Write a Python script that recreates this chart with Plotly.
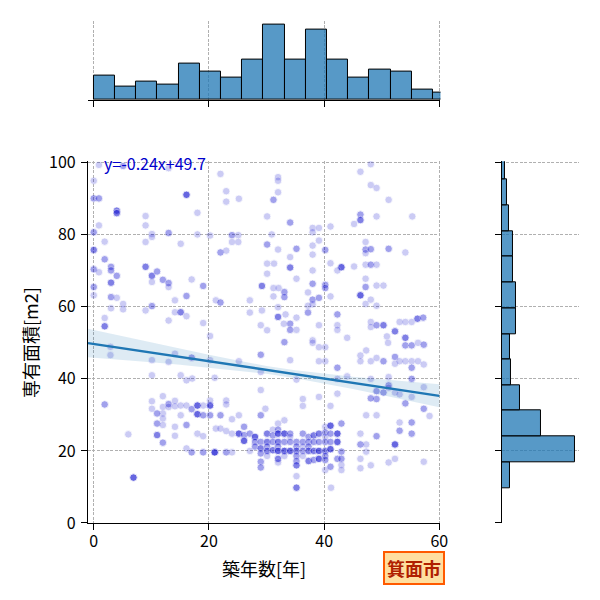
import numpy as np
import plotly.graph_objects as go

# scatter points: (years, area m2, how many overlap)
pts_upper_left = [
    (0.9, 99.4, 1), (5.1, 99.1, 2), (13.0, 98.5, 1), (0.0, 95.0, 1), (0.0, 90.1, 2), (0.9, 90.1, 2),
    (16.1, 91.1, 4), (4.0, 86.7, 3), (4.0, 86.0, 3), (9.0, 85.2, 1), (9.0, 82.6, 1), (0.9, 82.6, 1),
    (18.0, 86.1, 1), (22.0, 96.9, 1), (23.0, 92.1, 1), (23.0, 89.2, 1), (25.2, 90.0, 1), (0.0, 80.7, 2),
    (10.1, 80.2, 1), (10.1, 79.4, 1), (13.0, 80.5, 2), (1.9, 78.1, 1), (9.0, 78.0, 1), (15.1, 77.5, 1),
    (18.0, 80.1, 1), (20.2, 79.8, 1), (24.0, 79.9, 2), (25.1, 79.9, 1), (24.0, 78.0, 1), (25.1, 78.0, 1),
    (22.0, 75.1, 2), (23.0, 75.6, 1), (0.0, 75.8, 3), (1.9, 73.2, 2), (0.0, 70.4, 2), (0.9, 69.6, 1),
    (3.0, 71.1, 2), (3.0, 70.1, 2), (4.0, 68.6, 2), (3.0, 66.7, 3), (9.0, 71.1, 3), (10.1, 68.6, 3),
    (11.0, 69.8, 2), (10.1, 66.9, 1), (12.0, 67.5, 2), (13.0, 66.6, 2), (13.0, 65.5, 1), (17.0, 67.6, 1),
    (19.0, 65.8, 2), (0.0, 65.5, 2), (0.0, 63.2, 1), (3.0, 62.7, 2), (4.0, 62.5, 1), (5.1, 60.8, 1),
    (5.1, 59.3, 1), (3.0, 59.6, 1), (10.1, 60.2, 2), (9.0, 59.0, 1), (14.1, 61.8, 1), (16.1, 63.0, 2),
    (15.1, 58.5, 3), (14.1, 58.5, 1), (16.1, 57.4, 1), (13.0, 56.2, 1), (19.0, 55.5, 1), (21.2, 61.8, 1),
    (22.0, 61.2, 2), (27.1, 61.8, 1), (27.1, 58.4, 1), (1.9, 56.9, 1), (1.9, 54.6, 3), (20.2, 51.9, 1),
    (29.0, 54.9, 1),
]

pts_upper_right = [
    (48.1, 99.6, 1), (46.3, 97.5, 1), (32.0, 96.0, 1), (32.0, 95.0, 1), (32.0, 91.8, 1), (31.2, 89.7, 2),
    (48.1, 93.8, 1), (49.1, 93.0, 1), (51.2, 89.7, 1), (30.1, 85.1, 1), (34.1, 83.4, 2), (46.3, 85.6, 2),
    (46.3, 84.1, 3), (45.2, 83.0, 1), (49.1, 85.1, 1), (55.3, 85.1, 1), (38.0, 81.9, 1), (38.0, 80.7, 1),
    (39.1, 81.9, 1), (41.1, 82.3, 1), (30.9, 80.1, 1), (39.1, 78.4, 1), (30.1, 77.3, 2), (32.0, 75.9, 1),
    (35.2, 76.1, 2), (38.0, 77.0, 1), (38.0, 74.5, 1), (40.2, 75.8, 2), (47.2, 78.0, 1), (47.2, 75.9, 2),
    (47.2, 74.9, 1), (48.1, 76.0, 2), (51.2, 76.1, 2), (54.1, 75.1, 1), (34.1, 73.8, 1), (30.1, 72.0, 1),
    (31.3, 72.0, 1), (34.1, 70.9, 3), (30.1, 69.2, 1), (35.2, 67.8, 1), (38.0, 70.1, 1), (41.1, 72.1, 1),
    (43.0, 71.0, 4), (42.3, 70.1, 1), (45.2, 71.2, 1), (47.2, 71.7, 1), (48.1, 71.7, 2), (49.1, 71.7, 1),
    (47.2, 67.8, 1), (47.2, 65.5, 2), (49.1, 65.9, 1), (50.3, 65.9, 1), (29.2, 65.8, 3), (31.2, 65.2, 1),
    (32.1, 65.2, 1), (33.1, 64.1, 2), (33.1, 62.7, 2), (31.2, 62.9, 1), (38.0, 66.4, 2), (40.2, 66.1, 2),
    (40.2, 65.2, 2), (37.2, 64.0, 1), (38.0, 62.0, 2), (39.1, 62.5, 2), (41.1, 62.9, 1), (46.3, 63.2, 4),
    (47.2, 60.8, 1), (48.1, 62.0, 1), (49.1, 60.3, 1), (37.2, 60.3, 1), (38.0, 60.7, 1), (32.0, 59.9, 1),
    (32.0, 57.2, 3), (33.3, 57.9, 1), (35.2, 57.0, 1), (37.2, 58.4, 2), (42.3, 57.9, 2), (29.2, 59.0, 1),
    (30.1, 53.5, 1), (34.1, 55.3, 2), (34.1, 53.6, 2), (33.0, 55.3, 1), (35.2, 53.6, 1), (39.1, 54.9, 1),
    (42.3, 54.9, 1), (42.3, 53.6, 1), (48.1, 55.8, 1), (48.1, 54.4, 1), (49.1, 54.9, 2), (50.3, 54.9, 3),
    (53.1, 55.8, 1), (54.1, 55.8, 1), (55.2, 55.8, 1), (56.2, 56.7, 3), (57.2, 57.0, 2), (52.3, 53.2, 3),
    (54.1, 51.4, 3), (50.9, 51.8, 1), (44.0, 51.4, 1), (38.0, 50.7, 1),
]

pts_lower_left = [
    (2.9, 48.9, 1), (2.9, 46.6, 1), (10.1, 45.2, 1), (13.0, 44.7, 1), (14.1, 47.0, 1), (17.0, 45.9, 2),
    (20.2, 45.2, 1), (25.2, 44.9, 1), (29.0, 46.7, 2), (29.0, 41.9, 1), (10.1, 41.0, 1), (15.1, 41.0, 1),
    (16.1, 39.6, 1), (17.1, 40.1, 1), (21.0, 40.3, 1), (29.0, 36.9, 1), (1.9, 32.9, 2), (10.1, 33.8, 1),
    (10.1, 31.7, 1), (12.0, 35.2, 1), (12.0, 32.2, 1), (12.0, 30.4, 1), (11.0, 30.4, 2), (11.0, 27.6, 2),
    (12.0, 29.0, 1), (12.0, 27.2, 1), (13.0, 33.0, 2), (13.0, 32.2, 1), (14.1, 33.9, 1), (14.1, 32.4, 1),
    (15.1, 32.6, 1), (15.1, 29.9, 1), (16.1, 32.6, 1), (17.0, 31.6, 2), (18.0, 32.6, 4), (18.0, 30.2, 4),
    (19.0, 32.6, 1), (19.0, 29.9, 2), (20.2, 32.6, 4), (20.2, 29.9, 2), (20.2, 34.0, 1), (22.0, 29.9, 2),
    (23.0, 34.0, 1), (23.0, 32.9, 1), (24.0, 28.8, 1), (25.2, 29.9, 1), (29.0, 29.9, 2), (29.8, 31.7, 1),
    (6.0, 24.6, 1), (11.0, 24.4, 3), (12.0, 22.3, 2), (14.1, 26.7, 1), (14.1, 24.2, 1), (16.1, 27.2, 2),
    (18.0, 24.8, 1), (19.0, 24.1, 1), (21.2, 26.2, 1), (22.0, 26.2, 1), (23.0, 25.5, 1), (24.0, 24.8, 1),
    (25.2, 24.8, 4), (26.1, 26.7, 2), (26.1, 24.4, 2), (26.1, 22.8, 4), (27.1, 24.8, 2), (28.0, 23.9, 4),
    (28.0, 22.5, 2), (28.0, 21.2, 2), (29.0, 22.5, 2), (29.0, 20.7, 3), (29.0, 19.3, 2), (16.1, 20.7, 1),
    (17.0, 19.6, 2), (19.0, 19.6, 2), (21.0, 19.6, 5), (23.0, 19.6, 2), (24.0, 19.6, 1), (27.1, 20.0, 1),
    (29.0, 17.0, 2), (29.0, 15.4, 2), (6.9, 12.6, 4),
]

pts_lower_right = [
    (33.1, 50.2, 2), (38.0, 50.0, 1), (39.1, 48.8, 1), (40.2, 48.8, 1), (51.1, 50.0, 1), (54.1, 49.3, 2),
    (55.2, 49.3, 2), (56.3, 50.0, 1), (57.3, 49.5, 2), (34.1, 45.2, 1), (39.1, 44.9, 1), (40.2, 44.9, 1),
    (42.3, 43.1, 2), (46.3, 46.5, 1), (46.3, 44.9, 1), (47.3, 47.9, 1), (48.1, 44.9, 1), (49.1, 45.8, 1),
    (50.3, 44.9, 2), (52.3, 46.1, 2), (52.3, 44.2, 1), (53.1, 44.9, 1), (54.1, 44.9, 1), (55.2, 44.9, 1),
    (55.2, 43.1, 2), (56.3, 44.9, 1), (57.3, 44.0, 1), (42.3, 40.0, 1), (44.0, 40.7, 1), (48.1, 40.0, 1),
    (49.1, 36.6, 2), (49.1, 34.4, 2), (48.1, 34.6, 2), (50.3, 36.2, 2), (51.2, 40.5, 1), (51.2, 38.2, 2),
    (51.2, 37.5, 1), (52.3, 36.2, 1), (53.1, 35.7, 1), (54.1, 33.2, 2), (55.2, 40.0, 2), (55.2, 35.0, 1),
    (57.3, 37.7, 1), (57.3, 31.7, 2), (58.3, 29.7, 1), (35.2, 39.8, 1), (36.3, 34.4, 1), (36.3, 32.5, 1),
    (39.1, 35.0, 1), (41.1, 32.5, 1), (42.3, 35.9, 1), (33.1, 28.5, 1), (47.3, 29.9, 1), (49.1, 29.9, 1),
    (53.1, 27.9, 1), (55.2, 27.9, 2), (53.1, 25.6, 2), (55.2, 24.8, 2), (49.1, 24.1, 2), (52.3, 21.8, 4),
    (46.3, 21.8, 2), (47.3, 21.8, 1), (46.3, 24.8, 1), (47.3, 19.8, 1), (46.3, 17.8, 1), (46.3, 15.2, 1),
    (48.1, 16.0, 1), (51.2, 16.8, 1), (52.3, 17.8, 1), (57.3, 17.0, 1), (41.2, 9.8, 1),
]

pts_cluster = [
    (30.1, 24.8, 3), (30.1, 22.5, 3), (30.1, 21.2, 2), (30.1, 20.0, 3), (30.1, 18.6, 1),
    (31.1, 25.9, 1), (31.1, 24.3, 2), (31.1, 22.5, 2), (31.1, 20.2, 3),
    (32.0, 27.6, 1), (32.0, 25.9, 2), (32.0, 24.8, 4), (32.0, 22.5, 3), (32.0, 21.2, 2), (32.0, 20.0, 4),
    (32.0, 17.8, 3), (32.0, 16.8, 1),
    (33.1, 24.8, 4), (33.1, 22.5, 2), (33.1, 20.0, 4), (33.1, 18.6, 1),
    (34.1, 24.8, 2), (34.1, 23.9, 1), (34.1, 22.5, 2), (34.1, 20.0, 4),
    (35.2, 22.5, 2), (35.2, 21.2, 2), (35.2, 20.0, 3), (35.2, 18.6, 2), (35.2, 17.2, 2), (35.2, 16.0, 3),
    (35.2, 13.0, 1), (35.2, 9.8, 3),
    (36.3, 24.8, 2), (36.3, 22.5, 2), (36.3, 21.2, 1), (36.3, 20.0, 2), (36.3, 18.6, 1),
    (37.3, 23.9, 2), (37.3, 22.5, 2), (37.3, 21.2, 2), (37.3, 20.0, 3), (37.3, 17.2, 3),
    (38.2, 24.3, 3), (38.2, 22.5, 2), (38.2, 20.0, 3), (38.2, 17.5, 2),
    (39.1, 24.8, 3), (39.1, 22.5, 2), (39.1, 20.0, 4), (39.1, 17.8, 4),
    (40.2, 26.7, 1), (40.2, 25.1, 2), (40.2, 23.9, 1), (40.2, 22.5, 2), (40.2, 20.0, 3), (40.2, 18.6, 2),
    (40.2, 17.5, 2), (40.2, 14.7, 1),
    (41.1, 27.0, 4), (41.1, 24.8, 2), (41.1, 22.5, 2), (41.1, 20.5, 4), (41.1, 15.6, 2),
    (42.3, 24.8, 4), (42.3, 22.5, 4), (42.3, 17.8, 2),
    (43.0, 27.6, 2), (43.0, 19.8, 2), (43.0, 17.8, 2), (43.0, 16.1, 1), (43.0, 14.7, 1),
]

# marginal histograms
top_edges = [0, 3.68, 7.36, 11.04, 14.72, 18.4, 22.08, 25.76, 29.44, 33.12, 36.8, 40.48,
             44.16, 47.84, 51.52, 55.2, 58.88, 62.56]
top_counts = [24, 13, 18, 15, 36, 28, 22, 40, 75, 40, 70, 40, 22, 30, 28, 10, 7]
right_edges = [9.6, 16.8, 24.0, 31.2, 38.2, 45.3, 52.5, 59.6, 66.8, 73.9, 81.1, 88.3, 95.5, 102.7]
right_counts = [19, 171, 91, 42, 21, 18, 33, 33, 26, 26, 16, 12, 6]

# regression fit and its confidence band
slope = -0.24
intercept = 49.7
fit_x = [-1, 60]
ci_x = [-1, 5, 10, 15, 20, 25, 30, 35, 40, 45, 50, 55, 60]
ci_lower = [46.0, 45.2, 44.6, 43.9, 43.1, 42.3, 41.4, 40.2, 38.8, 37.2, 35.5, 33.9, 32.1]
ci_upper = [53.9, 51.8, 50.1, 48.4, 46.7, 45.1, 43.6, 42.4, 41.4, 40.6, 39.9, 39.2, 38.5]

city = "箕面市"

all_pts = pts_upper_left + pts_upper_right + pts_lower_left + pts_lower_right + pts_cluster
px_ = np.repeat([p[0] for p in all_pts], [p[2] for p in all_pts])
py_ = np.repeat([p[1] for p in all_pts], [p[2] for p in all_pts])

FONT = "Noto Sans CJK JP"
C0 = "#1f77b4"
GRID = dict(showgrid=True, gridcolor="#b0b0b0", griddash="3px,1.5px", gridwidth=0.8)
SPINE = dict(showline=True, linecolor="black", linewidth=1.2, ticks="outside",
             ticklen=6, tickwidth=1.2, tickcolor="black", zeroline=False, automargin=False)

# the page adds an 8px body margin, so domains are shifted to compensate
MAIN_X = [0.1333, 0.7208]
MAIN_Y = [0.1417, 0.7445]
X_RANGE = [-1, 60.2]
Y_RANGE = [0, 100.4]

fig = go.Figure()

fig.add_trace(go.Scatter(
    x=px_, y=py_, mode="markers",
    marker=dict(size=7.5, color="mediumblue", opacity=0.2, line=dict(color="white", width=0.8)),
    xaxis="x", yaxis="y"))

fig.add_trace(go.Scatter(
    x=ci_x + ci_x[::-1], y=ci_upper + ci_lower[::-1], fill="toself",
    fillcolor="rgba(31,119,180,0.15)", line=dict(width=0), mode="lines",
    xaxis="x", yaxis="y"))
fig.add_trace(go.Scatter(
    x=fit_x, y=[slope * v + intercept for v in fit_x], mode="lines",
    line=dict(color=C0, width=2.4), xaxis="x", yaxis="y"))

top_mid = [(a + b) / 2 for a, b in zip(top_edges[:-1], top_edges[1:])]
top_w = [b - a for a, b in zip(top_edges[:-1], top_edges[1:])]
fig.add_trace(go.Bar(
    x=top_mid, y=top_counts, width=top_w,
    marker=dict(color="rgba(31,119,180,0.75)", line=dict(color="black", width=1)),
    xaxis="x2", yaxis="y2"))

right_mid = [(a + b) / 2 for a, b in zip(right_edges[:-1], right_edges[1:])]
right_w = [b - a for a, b in zip(right_edges[:-1], right_edges[1:])]
fig.add_trace(go.Bar(
    y=right_mid, x=right_counts, width=right_w, orientation="h",
    marker=dict(color="rgba(31,119,180,0.75)", line=dict(color="black", width=1)),
    xaxis="x3", yaxis="y3"))

fig.update_layout(
    width=600, height=600, margin=dict(l=0, r=0, t=0, b=0),
    paper_bgcolor="white", plot_bgcolor="white", showlegend=False,
    font=dict(family=FONT, size=16, color="black"),
    bargap=0,
    xaxis=dict(domain=MAIN_X, range=X_RANGE, tickvals=[0, 20, 40, 60],
               anchor="y", ticklabelstandoff=-2, **GRID, **SPINE),
    yaxis=dict(domain=MAIN_Y, range=Y_RANGE, tickvals=[0, 20, 40, 60, 80, 100],
               anchor="x", ticklabelstandoff=2, **GRID, **SPINE),
    xaxis2=dict(domain=MAIN_X, range=X_RANGE, tickvals=[0, 20, 40, 60],
                showticklabels=False, anchor="y2", **GRID, **SPINE),
    yaxis2=dict(domain=[0.8467, 0.979], range=[0, max(top_counts) * 1.05], visible=False,
                anchor="x2"),
    xaxis3=dict(domain=[0.8233, 0.9512], range=[0, max(right_counts) * 1.05], visible=False,
                anchor="y3"),
    yaxis3=dict(domain=MAIN_Y, range=Y_RANGE, tickvals=[0, 20, 40, 60, 80, 100],
                showticklabels=False, anchor="x3", **GRID, **SPINE),
)

fig.add_annotation(x=1.5, y=100, xref="x", yref="y", xanchor="left", yanchor="middle",
                   text=f"y={slope}x+{intercept}", showarrow=False,
                   font=dict(size=16, color="mediumblue"))
fig.add_annotation(x=0.4267, y=0.0667, xref="paper", yref="paper", xanchor="center",
                   yanchor="middle", text="築年数[年]", showarrow=False, font=dict(size=18))
fig.add_annotation(x=0.0367, y=0.4417, xref="paper", yref="paper", xanchor="center",
                   yanchor="middle", text="専有面積[m2]", textangle=-90, showarrow=False,
                   font=dict(size=18))
fig.add_annotation(x=0.6767, y=0.0667, xref="paper", yref="paper", xanchor="center",
                   yanchor="middle", text=f"<b>{city}</b>", showarrow=False,
                   font=dict(size=18, color="#b02000"),
                   bgcolor="#ffdfa0", bordercolor="#ff5a00", borderwidth=2, borderpad=2)

fig.write_html("out.html")
